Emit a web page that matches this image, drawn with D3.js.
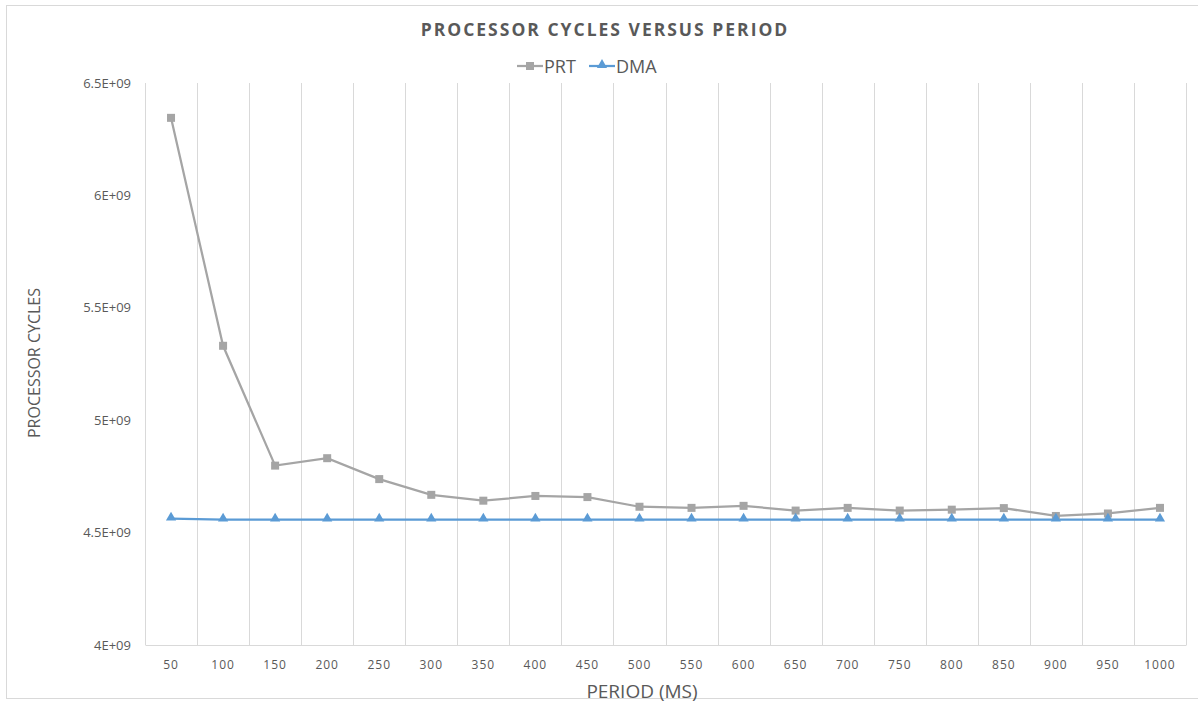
<!DOCTYPE html>
<html>
<head>
<meta charset="utf-8">
<script src="https://cdn.jsdelivr.net/npm/d3@7"></script>
<style>
  body { margin: 0; background: #fff; }
  text { font-family: "Open Sans", "DejaVu Sans", sans-serif; fill: #595959; }
</style>
</head>
<body>
<div class="main-graph"></div>
<script>
// data
var periods = [50,100,150,200,250,300,350,400,450,500,550,600,650,700,750,800,850,900,950,1000];
var prt = [6.345e9,5.331e9,4.798e9,4.831e9,4.738e9,4.668e9,4.642e9,4.663e9,4.658e9,4.615e9,
           4.610e9,4.619e9,4.598e9,4.610e9,4.598e9,4.602e9,4.609e9,4.574e9,4.585e9,4.610e9];
var dma = [4.562e9,4.558e9,4.558e9,4.558e9,4.558e9,4.558e9,4.558e9,4.558e9,4.558e9,4.558e9,
           4.558e9,4.558e9,4.558e9,4.558e9,4.558e9,4.558e9,4.558e9,4.558e9,4.558e9,4.558e9];
var yTicks = [4e9,4.5e9,5e9,5.5e9,6e9,6.5e9];
var yTickLabels = ["4E+09","4.5E+09","5E+09","5.5E+09","6E+09","6.5E+09"];

var W = 1198, H = 719;
var margin = {top: 83, right: 12, bottom: 74, left: 145},
    width = 1186 - margin.left,
    height = 645 - margin.top;

var root = d3.select(".main-graph")
            .append("svg")
            .attr("width", W)
            .attr("height", H);

// chart border
root.append("rect")
    .attr("x", 6.5).attr("y", 5.5)
    .attr("width", 1200).attr("height", 693)
    .attr("fill", "none")
    .attr("stroke", "#D9D9D9");

var svg = root.append("g")
            .attr("transform","translate(" + margin.left + "," + margin.top + ")");

var x = d3.scaleBand()
          .domain(periods)
          .range([0, width]);

var y = d3.scaleLinear()
          .domain([4e9, 6.5e9])
          .range([height, 0]);

// vertical gridlines between categories
var bounds = periods.map(function(d){ return x(d); }).concat([width]);
svg.append("g")
   .selectAll("line")
   .data(bounds)
   .join("line")
   .attr("x1", function(d){ return Math.round(d) + 0.5; })
   .attr("x2", function(d){ return Math.round(d) + 0.5; })
   .attr("y1", 0)
   .attr("y2", height)
   .attr("stroke", "#D9D9D9")
   .attr("stroke-width", 1);

// X axis
svg.append("g")
    .attr("transform", "translate(0," + height + ")")
    .attr("class","x-axis")
    .call(d3.axisBottom(x).tickSize(0).tickPadding(15))
    .call(function(g){ g.select(".domain").attr("stroke", "#D9D9D9"); })
    .selectAll("text")
    .style("font-size", "12px")
    .style("letter-spacing", "1px")
    .attr("fill", "#595959");

// Y axis labels
svg.append("g")
    .attr("class","y-axis")
    .call(d3.axisLeft(y)
            .tickValues(yTicks)
            .tickSize(0)
            .tickPadding(14)
            .tickFormat(function(d, i){ return yTickLabels[i]; }))
    .call(function(g){ g.select(".domain").remove(); })
    .selectAll("text")
    .style("font-size", "13px")
    .attr("fill", "#595959");

// lines
var line = d3.line()
             .x(function(d, i){ return x(periods[i]) + x.bandwidth() / 2; })
             .y(function(d){ return y(d); });

svg.append("path")
    .attr("d", line(prt))
    .attr("fill", "none")
    .attr("stroke", "#A5A5A5")
    .attr("stroke-width", 2.25);

svg.append("path")
    .attr("d", line(dma))
    .attr("fill", "none")
    .attr("stroke", "#5B9BD5")
    .attr("stroke-width", 2.25);

// markers
svg.append("g")
    .selectAll("rect")
    .data(prt)
    .join("rect")
    .attr("x", function(d, i){ return x(periods[i]) + x.bandwidth() / 2 - 4; })
    .attr("y", function(d){ return y(d) - 4; })
    .attr("width", 8)
    .attr("height", 8)
    .attr("fill", "#A5A5A5");

var tri = d3.symbol().type(d3.symbolTriangle).size(45);
svg.append("g")
    .selectAll("path")
    .data(dma)
    .join("path")
    .attr("d", tri)
    .attr("transform", function(d, i){
        return "translate(" + (x(periods[i]) + x.bandwidth() / 2) + "," + (y(d) - 1) + ")";
    })
    .attr("fill", "#5B9BD5");

// title
root.append("text")
    .attr("x", 605)
    .attr("y", 36)
    .attr("text-anchor", "middle")
    .style("font-size", "17.5px")
    .style("font-weight", "bold")
    .style("letter-spacing", "2px")
    .text("PROCESSOR CYCLES VERSUS PERIOD");

// legend
var legend = root.append("g");
var items = [
    {name: "PRT", color: "#A5A5A5", x0: 517, shape: "square"},
    {name: "DMA", color: "#5B9BD5", x0: 589, shape: "tri"}
];
items.forEach(function(it){
    legend.append("line")
        .attr("x1", it.x0).attr("x2", it.x0 + 26)
        .attr("y1", 66).attr("y2", 66)
        .attr("stroke", it.color).attr("stroke-width", 2.25);
    if (it.shape === "square") {
        legend.append("rect")
            .attr("x", it.x0 + 9).attr("y", 62)
            .attr("width", 8).attr("height", 8)
            .attr("fill", it.color);
    } else {
        legend.append("path")
            .attr("d", tri)
            .attr("transform", "translate(" + (it.x0 + 13) + ",65)")
            .attr("fill", it.color);
    }
    legend.append("text")
        .attr("x", it.x0 + 27)
        .attr("y", 73)
        .style("font-size", "18px")
        .text(it.name);
});

// axis titles
root.append("text")
    .attr("text-anchor", "middle")
    .style("font-size", "16px")
    .attr("transform", "translate(40," + 363 + ")rotate(-90)")
    .text("PROCESSOR CYCLES");

root.append("text")
    .attr("text-anchor", "middle")
    .attr("x", 642)
    .attr("y", 698)
    .style("font-size", "19px")
    .text("PERIOD (MS)");
</script>
</body>
</html>
